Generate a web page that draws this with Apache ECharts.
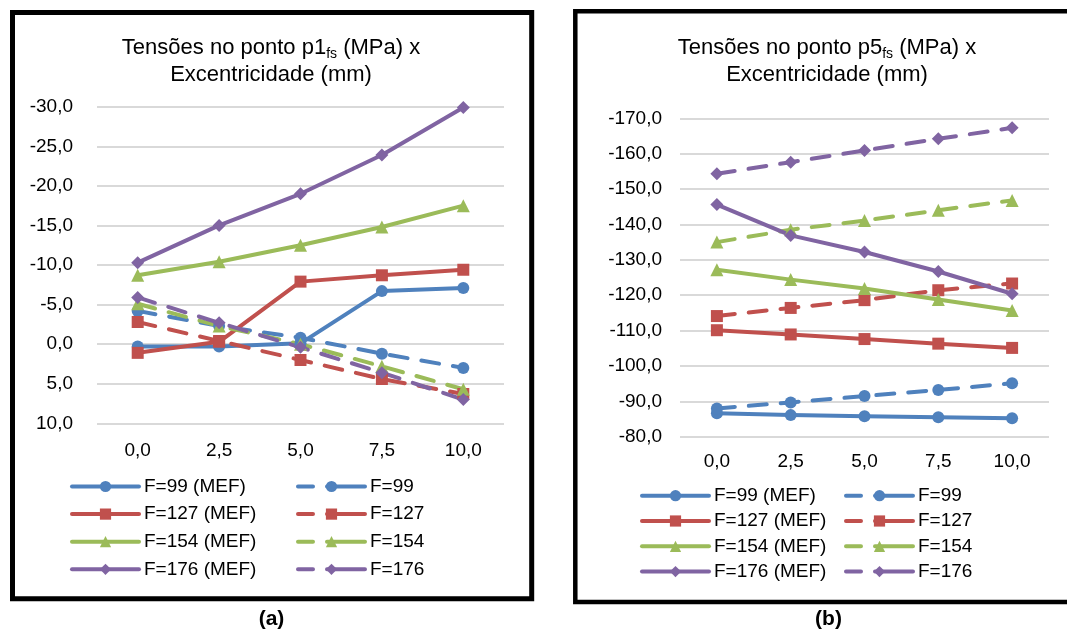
<!DOCTYPE html>
<html>
<head>
<meta charset="utf-8">
<script src="https://cdn.jsdelivr.net/npm/echarts@6/dist/echarts.min.js"></script>
<style>
  html, body { margin: 0; padding: 0; background: #ffffff; }
  #chart { width: 1067px; height: 630px; }
</style>
</head>
<body>
<div id="chart"></div>
<script>
// Eccentricity (mm) on the category axis
const categories = ['0,0', '2,5', '5,0', '7,5', '10,0'];

// Stresses at point p1fs (MPa)
const p1_F99_MEF  = [0.3, 0.3, -0.1, -6.7, -7.1];
const p1_F99      = [-4.2, -2.3, -0.8, 1.2, 3.0];
const p1_F127_MEF = [1.1, -0.3, -7.9, -8.7, -9.4];
const p1_F127     = [-2.8, -0.4, 2.0, 4.4, 6.3];
const p1_F154_MEF = [-8.7, -10.4, -12.5, -14.8, -17.5];
const p1_F154     = [-5.1, -2.3, 0.0, 2.8, 5.7];
const p1_F176_MEF = [-10.3, -15.0, -19.0, -23.9, -29.9];
const p1_F176     = [-5.9, -2.7, 0.4, 3.6, 7.0];

// Stresses at point p5fs (MPa)
const p5_F99_MEF  = [-86.6, -86.1, -85.8, -85.5, -85.2];
const p5_F99      = [-88.0, -89.7, -91.5, -93.2, -95.1];
const p5_F127_MEF = [-110.1, -108.9, -107.6, -106.3, -105.1];
const p5_F127     = [-114.1, -116.4, -118.6, -121.4, -123.3];
const p5_F154_MEF = [-127.2, -124.4, -121.9, -118.8, -115.7];
const p5_F154     = [-135.0, -138.5, -141.1, -144.0, -146.8];
const p5_F176_MEF = [-145.6, -136.9, -132.2, -126.7, -120.4];
const p5_F176     = [-154.3, -157.6, -160.9, -164.2, -167.3];

// Legend names
const namesMEF = ['F=99 (MEF)', 'F=127 (MEF)', 'F=154 (MEF)', 'F=176 (MEF)'];
const namesAna = ['F=99', 'F=127', 'F=154', 'F=176'];

const FONT = '"Liberation Sans", Arial, sans-serif';
const COLORS = ['#4F81BD', '#C0504D', '#9BBB59', '#8064A2'];
const SYMBOLS = ['circle', 'rect', 'triangle', 'diamond'];
const SYMBOL_SIZES = [12, 12, 13, 13];

const fmt = v => v.toFixed(1).replace('.', ',');

function lineSeries(name, data, k, dashed, axisIndex) {
  return {
    type: 'line',
    name: name,
    data: data,
    xAxisIndex: axisIndex,
    yAxisIndex: axisIndex,
    symbol: SYMBOLS[k],
    symbolSize: SYMBOL_SIZES[k],
    showAllSymbol: true,
    color: COLORS[k],
    itemStyle: { color: COLORS[k] },
    lineStyle: {
      color: COLORS[k],
      width: 4,
      cap: 'round',
      join: 'round',
      type: dashed ? [18, 14] : 'solid'
    },
    emphasis: { disabled: true },
    animation: false
  };
}

const p1Sets = [[p1_F99_MEF, p1_F99], [p1_F127_MEF, p1_F127], [p1_F154_MEF, p1_F154], [p1_F176_MEF, p1_F176]];
const p5Sets = [[p5_F99_MEF, p5_F99], [p5_F127_MEF, p5_F127], [p5_F154_MEF, p5_F154], [p5_F176_MEF, p5_F176]];

const series = [];
[p1Sets, p5Sets].forEach((sets, ai) => {
  sets.forEach((pair, k) => {
    series.push(lineSeries(namesMEF[k], pair[0], k, false, ai));
    series.push(lineSeries(namesAna[k], pair[1], k, true, ai));
  });
});

// Vertical legend column; dashed keys get a short dash, a gap, then the marker segment
function legend(names, left, top, gap, dashed) {
  const lineStyle = { width: 4 };
  if (dashed) lineStyle.type = [15, 14, 40, 0];
  return {
    orient: 'vertical',
    left: left,
    top: top,
    padding: 0,
    itemWidth: 67,
    itemHeight: 14,
    itemGap: gap,
    selectedMode: false,
    data: names,
    lineStyle: lineStyle,
    textStyle: { fontSize: 19, lineHeight: 20, fontFamily: FONT, color: '#000' }
  };
}

function xAxis(gridIndex, margin) {
  return {
    type: 'category',
    gridIndex: gridIndex,
    data: categories,
    boundaryGap: true,
    axisLine: { show: false },
    axisTick: { show: false },
    axisLabel: { fontSize: 19, lineHeight: 20, fontFamily: FONT, color: '#000', margin: margin }
  };
}

function yAxis(gridIndex, min, max, interval, margin) {
  return {
    type: 'value',
    gridIndex: gridIndex,
    min: min,
    max: max,
    interval: interval,
    inverse: true,
    axisLine: { show: false },
    axisTick: { show: false },
    splitLine: { show: true, lineStyle: { color: '#D9D9D9', width: 2 } },
    axisLabel: { fontSize: 19, fontFamily: FONT, color: '#000', margin: margin, formatter: fmt }
  };
}

const titleRich = {
  t: { fontSize: 22, lineHeight: 27, fontFamily: FONT, fill: '#000' },
  s: { fontSize: 14, lineHeight: 16, fontFamily: FONT, fill: '#000', verticalAlign: 'bottom' }
};

function titleText(x, y, point) {
  return {
    type: 'text',
    x: x,
    y: y,
    silent: true,
    style: {
      text: '{t|Tensões no ponto ' + point + '}{s|fs}{t| (MPa) x}\n{t|Excentricidade (mm)}',
      rich: titleRich,
      align: 'center',
      verticalAlign: 'middle',
      fill: '#000'
    }
  };
}

const option = {
  backgroundColor: '#ffffff',
  animation: false,
  grid: [
    { left: 97, top: 106.7, width: 407, height: 316.6, containLabel: false },
    { left: 680, top: 118.3, width: 369, height: 318.4, containLabel: false }
  ],
  xAxis: [xAxis(0, 17.5), xAxis(1, 15)],
  yAxis: [yAxis(0, -30, 10, 5, 24), yAxis(1, -170, -80, 10, 18)],
  legend: [
    legend(namesMEF, 70, 476.5, 7.6, false),
    legend(namesAna, 296, 476.5, 7.6, true),
    legend(namesMEF, 640, 485.7, 5.3, false),
    legend(namesAna, 844, 485.7, 5.3, true)
  ],
  series: series,
  graphic: [
    { type: 'rect', silent: true, shape: { x: 12.5, y: 12.5, width: 519.2, height: 586.2 },
      style: { fill: 'none', stroke: '#000', lineWidth: 5 } },
    { type: 'rect', silent: true, shape: { x: 575.3, y: 11.2, width: 520, height: 590.8 },
      style: { fill: 'none', stroke: '#000', lineWidth: 4.5 } },
    titleText(271, 61, 'p1'),
    titleText(827, 61, 'p5'),
    { type: 'text', x: 271.5, y: 619.5, silent: true,
      style: { text: '(a)', fontSize: 21, fontWeight: 'bold', fontFamily: FONT, fill: '#000', align: 'center', verticalAlign: 'middle' } },
    { type: 'text', x: 828.5, y: 619.5, silent: true,
      style: { text: '(b)', fontSize: 21, fontWeight: 'bold', fontFamily: FONT, fill: '#000', align: 'center', verticalAlign: 'middle' } }
  ]
};

const chart = echarts.init(document.getElementById('chart'), null, { renderer: 'canvas' });
chart.setOption(option);
</script>
</body>
</html>
